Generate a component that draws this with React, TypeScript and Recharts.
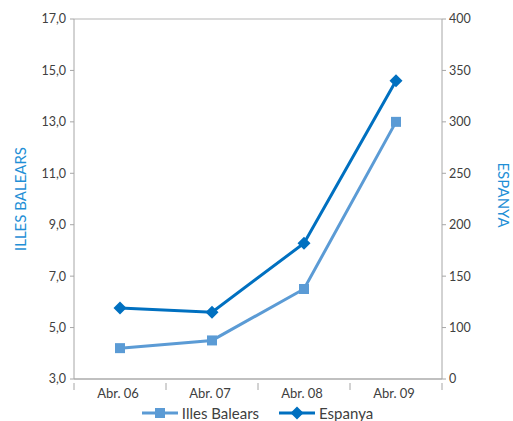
import { CartesianGrid, Legend, Line, LineChart, XAxis, YAxis } from "recharts";

document.body.style.margin = "0";

const categories = ["Abr. 06", "Abr. 07", "Abr. 08", "Abr. 09"];
const illesBalears = [4.2, 4.5, 6.5, 13.0];
const espanya = [119, 115, 182, 340];

const leftTicks = [3, 5, 7, 9, 11, 13, 15, 17];
const rightTicks = [50, 100, 150, 200, 250, 300, 350, 400];

const LIGHT = "#5b9bd5";
const DARK = "#0070c0";
const TITLE = "#1f8fd6";
const AXIS = "#a6a6a6";
const TEXT = "#404040";
const FONT = "Lato, 'Open Sans', sans-serif";

const W = 513;
const H = 421;
const PLOT_LEFT = 74;
const PLOT_RIGHT = 442;
const BAND = (PLOT_RIGHT - PLOT_LEFT) / categories.length;

const data = categories.map((c, i) => ({
  label: c,
  illes: illesBalears[i],
  esp: espanya[i],
}));

function Square(props: any) {
  const { cx, cy } = props;
  return <rect key={props.index} x={cx - 5} y={cy - 5} width={10} height={10} fill={LIGHT} />;
}

function Diamond(props: any) {
  const { cx, cy } = props;
  const r = 6.5;
  return (
    <polygon
      key={props.index}
      points={`${cx},${cy - r} ${cx + r},${cy} ${cx},${cy + r} ${cx - r},${cy}`}
      fill={DARK}
    />
  );
}

// category ticks: label at band centre, tick mark at band boundaries
function CatTick(props: any) {
  const { x, y, payload, index } = props;
  const left = x - BAND / 2;
  const last = index === categories.length - 1;
  return (
    <g>
      <line x1={left} y1={y - 4} x2={left} y2={y + 3} stroke={AXIS} />
      {last && <line x1={x + BAND / 2} y1={y - 4} x2={x + BAND / 2} y2={y + 3} stroke={AXIS} />}
      <text x={x - 2} y={y + 11} textAnchor="middle" fill={TEXT} fontSize={13} fontFamily={FONT}>
        {payload.value}
      </text>
    </g>
  );
}

function LegendContent() {
  const item = (name: string, color: string, marker: React.ReactNode) => (
    <div style={{ display: "flex", alignItems: "center", margin: "0 10px" }}>
      <svg width={36} height={14}>
        <line x1={0} y1={7} x2={36} y2={7} stroke={color} strokeWidth={3} />
        {marker}
      </svg>
      <span style={{ marginLeft: 4, color: TEXT, fontSize: 15, lineHeight: "16px", fontFamily: FONT }}>{name}</span>
    </div>
  );
  return (
    <div style={{ display: "flex", justifyContent: "center", height: 20, alignItems: "center", paddingLeft: 2, paddingTop: 3, boxSizing: "border-box" }}>
      {item("Illes Balears", LIGHT, <rect x={13} y={2} width={10} height={10} fill={LIGHT} />)}
      {item("Espanya", DARK, <polygon points="18,0.5 24.5,7 18,13.5 11.5,7" fill={DARK} />)}
    </div>
  );
}

export default function App() {
  return (
    <LineChart width={W} height={H} data={data} margin={{ top: 19, right: 0, bottom: 0, left: 0 }}>
      <CartesianGrid vertical={false} stroke="#b5b5b5" />
      <XAxis
        dataKey="label"
        scale="band"
        stroke={AXIS}
        tickLine={false}
        height={22}
        tick={<CatTick />}
        interval={0}
      />
      <YAxis
        yAxisId="left"
        width={PLOT_LEFT}
        domain={[3, 17]}
        ticks={leftTicks}
        stroke={AXIS}
        tickSize={4}
        tickMargin={4}
        tick={{ fill: TEXT, fontSize: 12.5, fontFamily: FONT }}
        tickFormatter={(v: number) => v.toFixed(1).replace(".", ",")}
        label={(p: any) => {
          const vb = p.viewBox;
          const cy = vb.y + vb.height / 2;
          return (
            <text x={20} y={cy} transform={`rotate(-90 20 ${cy})`} textAnchor="middle" dominantBaseline="central" fill={TITLE} fontSize={15} fontFamily={FONT}>
              ILLES BALEARS
            </text>
          );
        }}
      />
      <YAxis
        yAxisId="right"
        orientation="right"
        width={W - PLOT_RIGHT}
        domain={[50, 400]}
        ticks={rightTicks}
        stroke={AXIS}
        tickSize={4}
        tickMargin={3}
        tick={{ fill: TEXT, fontSize: 12.5, fontFamily: FONT }}
        tickFormatter={(v: number) => (v === 50 ? "0" : String(v))}
        label={(p: any) => {
          const vb = p.viewBox;
          const cy = vb.y + vb.height / 2 - 4;
          return (
            <text x={504} y={cy} transform={`rotate(90 504 ${cy})`} textAnchor="middle" dominantBaseline="central" fill={TITLE} fontSize={15} fontFamily={FONT}>
              ESPANYA
            </text>
          );
        }}
      />
      <Legend verticalAlign="bottom" height={20} content={<LegendContent />} />
      <Line
        yAxisId="left"
        dataKey="illes"
        name="Illes Balears"
        stroke={LIGHT}
        strokeWidth={3}
        dot={Square}
        activeDot={false}
        isAnimationActive={false}
      />
      <Line
        yAxisId="right"
        dataKey="esp"
        name="Espanya"
        stroke={DARK}
        strokeWidth={3}
        dot={Diamond}
        activeDot={false}
        isAnimationActive={false}
      />
    </LineChart>
  );
}
